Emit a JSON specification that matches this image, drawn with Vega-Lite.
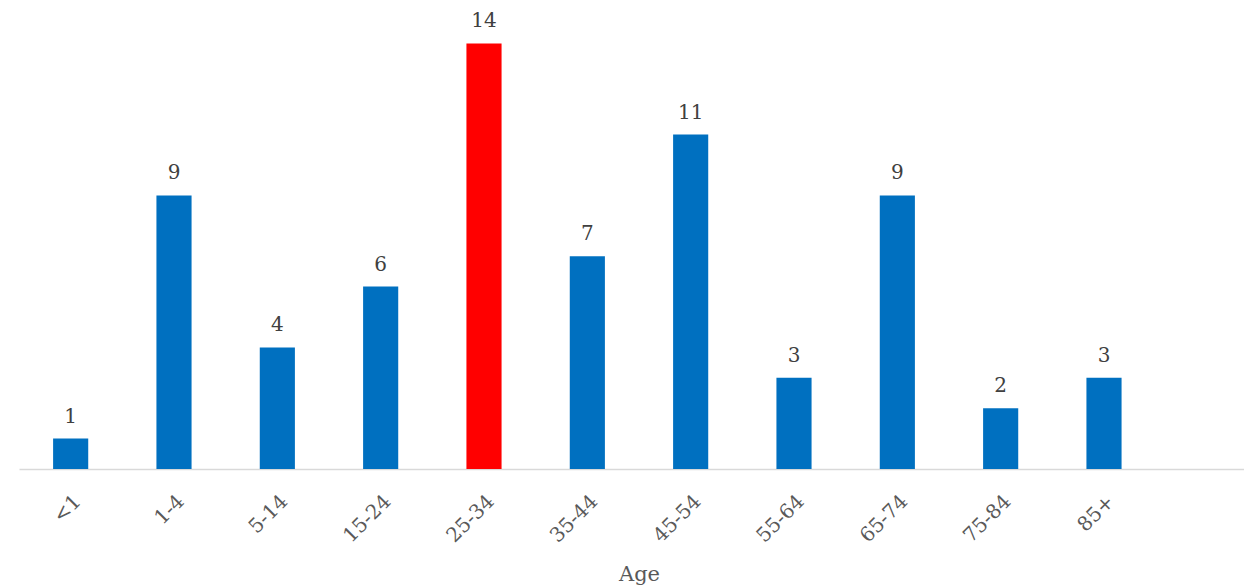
{
  "$schema": "https://vega.github.io/schema/vega-lite/v6.json",
  "autosize": {"type": "none"},
  "width": 1225,
  "height": 456,
  "padding": {"left": 19, "top": 13, "right": 0, "bottom": 119},
  "background": "white",
  "config": {
    "view": {"stroke": null},
    "font": "DejaVu Serif"
  },
  "data": {
    "values": [
      {"age": "<1", "cases": 1, "peak": false},
      {"age": "1-4", "cases": 9, "peak": false},
      {"age": "5-14", "cases": 4, "peak": false},
      {"age": "15-24", "cases": 6, "peak": false},
      {"age": "25-34", "cases": 14, "peak": true},
      {"age": "35-44", "cases": 7, "peak": false},
      {"age": "45-54", "cases": 11, "peak": false},
      {"age": "55-64", "cases": 3, "peak": false},
      {"age": "65-74", "cases": 9, "peak": false},
      {"age": "75-84", "cases": 2, "peak": false},
      {"age": "85+", "cases": 3, "peak": false}
    ]
  },
  "encoding": {
    "x": {
      "field": "age",
      "type": "nominal",
      "sort": null,
      "scale": {
        "domain": ["<1", "1-4", "5-14", "15-24", "25-34", "35-44", "45-54", "55-64", "65-74", "75-84", "85+", " "],
        "range": [0, 1240],
        "paddingInner": 0.66,
        "paddingOuter": 0.33
      },
      "axis": {
        "title": "Age",
        "titleFont": "DejaVu Serif",
        "titleFontSize": 21,
        "titleFontWeight": "normal",
        "titleColor": "#595959",
        "titlePadding": 18,
        "labelAngle": -45,
        "labelFontSize": 20,
        "labelColor": "#595959",
        "labelPadding": 22,
        "ticks": false,
        "domainColor": "#d9d9d9",
        "domainWidth": 1.5,
        "grid": false
      }
    },
    "y": {
      "field": "cases",
      "type": "quantitative",
      "scale": {"domain": [0, 15], "nice": false},
      "axis": null
    }
  },
  "layer": [
    {
      "mark": {"type": "bar"},
      "encoding": {
        "color": {
          "field": "peak",
          "type": "nominal",
          "scale": {"domain": [false, true], "range": ["#0070C0", "#FF0000"]},
          "legend": null
        }
      }
    },
    {
      "mark": {"type": "text", "baseline": "alphabetic", "dy": -16, "fontSize": 20, "color": "#404040"},
      "encoding": {
        "text": {"field": "cases", "type": "quantitative"}
      }
    }
  ]
}
